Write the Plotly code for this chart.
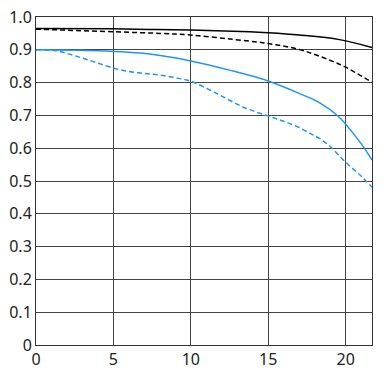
import plotly.graph_objects as go

x_black_s = [0, 5, 7.35, 10, 13.8, 15, 17, 19.6, 21.7]
black_solid = [0.965, 0.964, 0.962, 0.960, 0.955, 0.952, 0.945, 0.931, 0.907]

x_black_d = [0, 5, 8, 10, 12.7, 15, 17, 18.1, 19.2, 20, 21.7]
black_dash = [0.963, 0.955, 0.950, 0.945, 0.932, 0.919, 0.901, 0.884, 0.864, 0.847, 0.801]

x_blue_s = [0, 4, 7.35, 10, 12.5, 15, 17, 18.3, 19.5, 20.9, 21.7]
blue_solid = [0.900, 0.897, 0.887, 0.866, 0.838, 0.805, 0.767, 0.739, 0.698, 0.620, 0.564]

x_blue_d = [0, 1.33, 2.2, 3.05, 3.9, 5, 6, 7, 8, 9, 10, 11.66, 13.4, 15, 16, 17, 17.7, 18.3,
            19, 20, 21, 21.7]
blue_dash = [0.900, 0.897, 0.886, 0.874, 0.861, 0.844, 0.834, 0.828, 0.823, 0.815, 0.804, 0.767,
             0.725, 0.698, 0.682, 0.663, 0.645, 0.630, 0.605, 0.557, 0.515, 0.481]

y_ticks = [0, 0.1, 0.2, 0.3, 0.4, 0.5, 0.6, 0.7, 0.8, 0.9, 1.0]
y_labels = ["0", "0.1", "0.2", "0.3", "0.4", "0.5", "0.6", "0.7", "0.8", "0.9", "1.0"]
x_ticks = [0, 5, 10, 15, 20]

blue = "#1E96F0"
fig = go.Figure()
fig.add_trace(go.Scatter(x=x_black_s, y=black_solid, mode="lines",
                         line=dict(color="black", width=1.5, shape="spline")))
fig.add_trace(go.Scatter(x=x_black_d, y=black_dash, mode="lines",
                         line=dict(color="black", width=1.5, dash="5px,3px", shape="spline")))
fig.add_trace(go.Scatter(x=x_blue_s, y=blue_solid, mode="lines",
                         line=dict(color=blue, width=1.5, shape="spline")))
fig.add_trace(go.Scatter(x=x_blue_d, y=blue_dash, mode="lines",
                         line=dict(color=blue, width=1.5, dash="5px,3px", shape="spline")))

fig.update_layout(
    width=389, height=368,
    margin=dict(l=36, r=17, t=17, b=23, autoexpand=False),
    paper_bgcolor="white", plot_bgcolor="white",
    showlegend=False,
    font=dict(family="Noto Sans", size=16, color="#222"),
)
fig.update_xaxes(range=[0, 21.7], tickvals=x_ticks, showgrid=True, automargin=False,
                 gridcolor="#444", gridwidth=1, showline=True, linecolor="#333",
                 linewidth=1, mirror=True, zeroline=False, ticks="", ticklen=0,
                 ticklabeloverflow="allow")
fig.update_yaxes(range=[0, 1.0], tickvals=y_ticks, ticktext=y_labels, showgrid=True,
                 automargin=False, ticklabeloverflow="allow",
                 gridcolor="#444", gridwidth=1, showline=True, linecolor="#333",
                 linewidth=1, mirror=True, zeroline=False, ticks="")
fig.write_html("out.html", config={"displayModeBar": False},
               post_script="document.body.style.margin='0';")
